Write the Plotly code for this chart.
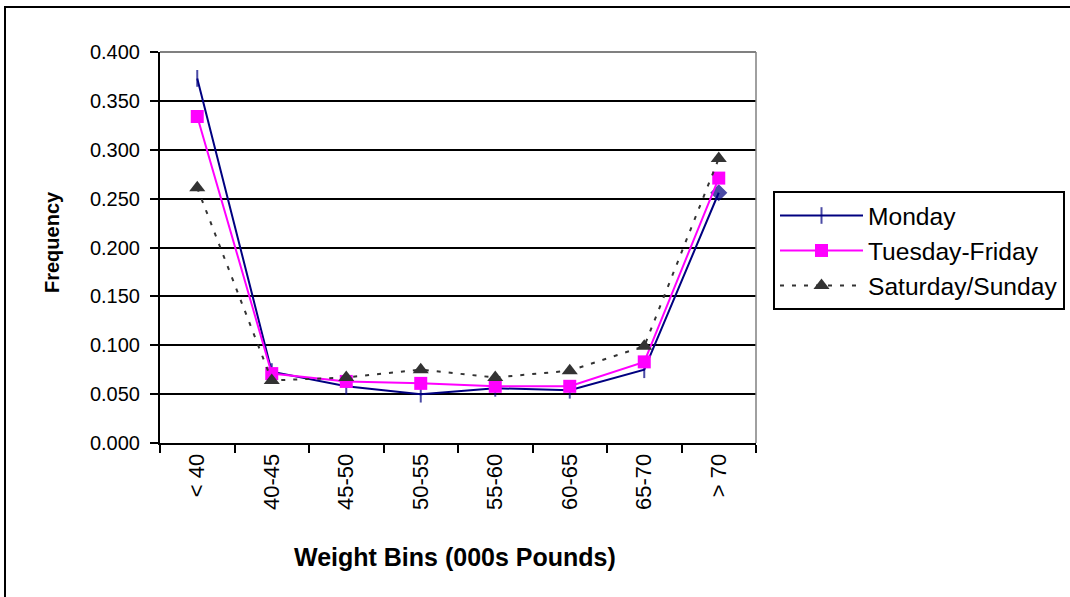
import plotly.graph_objects as go

# ---- data ----
categories = ["< 40", "40-45", "45-50", "50-55", "55-60", "60-65", "65-70", "> 70"]
monday = [0.373, 0.073, 0.058, 0.050, 0.056, 0.054, 0.075, 0.256]
tuesday_friday = [0.334, 0.071, 0.063, 0.061, 0.058, 0.058, 0.083, 0.271]
saturday_sunday = [0.261, 0.064, 0.067, 0.075, 0.067, 0.074, 0.099, 0.291]
y_tick_values = [0.0, 0.05, 0.10, 0.15, 0.20, 0.25, 0.30, 0.35, 0.40]
y_tick_labels = ["0.000", "0.050", "0.100", "0.150", "0.200", "0.250", "0.300", "0.350", "0.400"]

FONT = "Liberation Sans, Arial, sans-serif"

# plot-area geometry in pixels (used for paper-coordinate placement)
W, H = 1070, 597
L, R, T, B = 160, 756, 52, 443


def px_x(p):
    return (p - L) / (R - L)


def px_y(p):
    return (B - p) / (B - T)


fig = go.Figure()

mon_symbols = ["line-ns"] * (len(monday) - 1) + ["diamond"]
mon_sizes = [12] * (len(monday) - 1) + [11]
fig.add_trace(go.Scatter(
    x=categories, y=monday, name="Monday", mode="lines+markers",
    line=dict(color="#000080", width=2),
    marker=dict(symbol=mon_symbols, size=mon_sizes, color="#000080",
                line=dict(color="#000080", width=2)),
    legendgroup="a",
))
fig.add_trace(go.Scatter(
    x=categories, y=tuesday_friday, name="Tuesday-Friday", mode="lines+markers",
    line=dict(color="#FF00FF", width=2),
    marker=dict(symbol="square", size=13, color="#FF00FF",
                line=dict(color="#FF00FF", width=0)),
    legendgroup="b",
))
fig.add_trace(go.Scatter(
    x=categories, y=saturday_sunday, name="Saturday/Sunday", mode="lines+markers",
    line=dict(color="#333333", width=2, dash="4px,8px"),
    marker=dict(symbol="triangle-up", size=14, color="#333333",
                line=dict(color="#333333", width=0)),
    legendgroup="c",
))

fig.update_layout(
    width=W, height=H,
    margin=dict(l=L, r=W - R, t=T, b=H - B, pad=0, autoexpand=False),
    paper_bgcolor="white", plot_bgcolor="white",
    font=dict(family=FONT, color="black", size=20),
    showlegend=True,
    legend=dict(
        x=px_x(773), y=px_y(191), xanchor="left", yanchor="top",
        bordercolor="black", borderwidth=2, bgcolor="white",
        font=dict(family=FONT, size=24.6, color="black"),
        itemwidth=83, tracegroupgap=0,
    ),
    xaxis=dict(
        type="category", range=[-0.5, 7.5],
        showline=True, linecolor="black", linewidth=2,
        ticks="outside", tickson="boundaries", ticklen=8, tickwidth=2, tickcolor="black",
        tickangle=-90, showgrid=False, zeroline=False, automargin=False,
        tickfont=dict(family=FONT, size=22, color="black"),
    ),
    yaxis=dict(
        range=[0, 0.4], tickvals=y_tick_values, ticktext=y_tick_labels,
        showline=True, linecolor="black", linewidth=2,
        ticks="outside", ticklen=8, tickwidth=2, tickcolor="black",
        showgrid=True, gridcolor="black", gridwidth=2, zeroline=False, automargin=False,
        tickfont=dict(family=FONT, size=20, color="black"),
        ticklabelstandoff=6,
    ),
    annotations=[
        dict(text="<b>Weight Bins (000s Pounds)</b>", xref="paper", yref="paper",
             x=px_x(455), y=px_y(557), xanchor="center", yanchor="middle",
             showarrow=False, font=dict(family=FONT, size=25, color="black")),
        dict(text="<b>Frequency</b>", xref="paper", yref="paper",
             x=px_x(52), y=px_y(242), xanchor="center", yanchor="middle",
             textangle=-90, showarrow=False,
             font=dict(family=FONT, size=20, color="black")),
    ],
    shapes=[
        # plot-area border (grey, top and right)
        dict(type="line", xref="paper", yref="paper", x0=0, x1=1, y0=1, y1=1,
             line=dict(color="#808080", width=2), layer="above"),
        dict(type="line", xref="paper", yref="paper", x0=1, x1=1, y0=0, y1=1,
             line=dict(color="#808080", width=1.5), layer="above"),
        # chart-area outer frame (right and bottom edges lie outside the picture)
        dict(type="rect", xref="paper", yref="paper",
             x0=px_x(5), x1=px_x(1120), y0=px_y(640), y1=px_y(7),
             line=dict(color="black", width=2), fillcolor="rgba(0,0,0,0)", layer="above"),
    ],
)

fig.write_html("out.html")
